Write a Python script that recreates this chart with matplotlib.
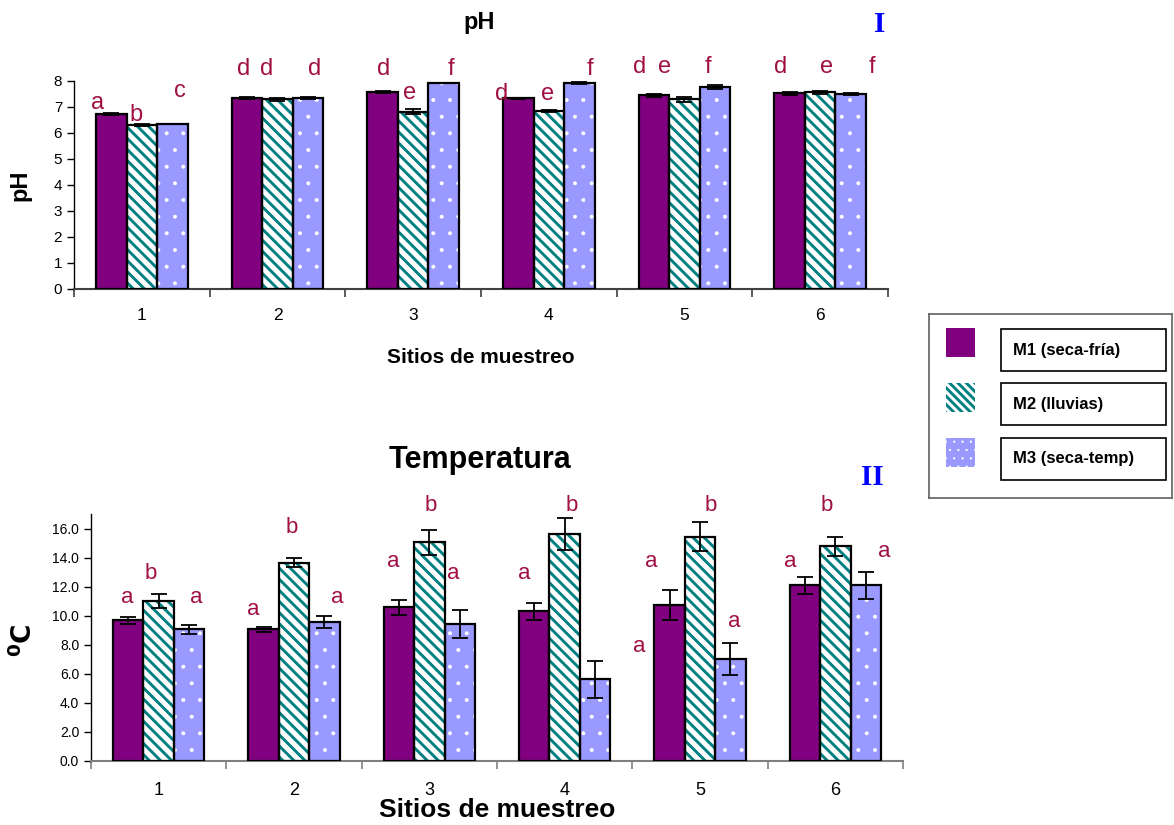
import matplotlib as mpl
import matplotlib.pyplot as plt
import matplotlib.patches as mpatches
import numpy as np

plt.rcParams['font.family'] = ['Liberation Sans', 'DejaVu Sans']

# ---------------------------------------------------------------------------
# Data
# ---------------------------------------------------------------------------

sites = ['1', '2', '3', '4', '5', '6']
series = ['M1 (seca-fría)', 'M2 (lluvias)', 'M3 (seca-temp)']

ph_m1 = [6.73, 7.33, 7.58, 7.33, 7.45, 7.52]
ph_m2 = [6.30, 7.30, 6.82, 6.85, 7.30, 7.57]
ph_m3 = [6.33, 7.33, 7.93, 7.93, 7.77, 7.50]
ph_err_m1 = [0.05, 0.04, 0.04, 0.03, 0.05, 0.04]
ph_err_m2 = [0.04, 0.05, 0.10, 0.03, 0.10, 0.06]
ph_err_m3 = [0.00, 0.04, 0.00, 0.05, 0.06, 0.03]

temp_m1 = [9.68, 9.07, 10.58, 10.30, 10.71, 12.09]
temp_m2 = [11.00, 13.66, 15.04, 15.60, 15.45, 14.77]
temp_m3 = [9.07, 9.55, 9.41, 5.63, 7.00, 12.09]
temp_err_m1 = [0.25, 0.18, 0.52, 0.58, 1.03, 0.58]
temp_err_m2 = [0.50, 0.32, 0.89, 1.10, 1.00, 0.65]
temp_err_m3 = [0.32, 0.40, 0.97, 1.28, 1.09, 0.92]

# significance letters (text, x in data units, y in data units)
ph_letters = ['a', 'b', 'c', 'd', 'd', 'd', 'd', 'e', 'f',
              'd', 'e', 'f', 'd', 'e', 'f', 'd', 'e', 'f']
ph_letter_x = [-0.33, -0.04, 0.28, 0.75, 0.92, 1.27, 1.78, 1.97, 2.28,
               2.65, 2.99, 3.30, 3.67, 3.85, 4.17, 4.71, 5.05, 5.38]
ph_letter_y = [6.92, 6.46, 7.38, 8.23, 8.23, 8.23, 8.23, 7.31, 8.23,
               7.27, 7.27, 8.23, 8.31, 8.31, 8.31, 8.31, 8.31, 8.31]

temp_letters = ['a', 'b', 'a'] * 6
temp_letter_x = [-0.23, -0.06, 0.28, 0.70, 0.98, 1.32, 1.73, 2.01, 2.18,
                 2.70, 3.05, 3.55, 3.64, 4.08, 4.25, 4.67, 4.94, 5.36]
temp_letter_y = [10.87, 12.53, 10.87, 10.05, 15.69, 10.87, 13.35, 17.2, 12.53,
                 12.53, 17.2, 7.50, 13.35, 17.2, 9.22, 13.35, 17.2, 14.04]

# ---------------------------------------------------------------------------
# Styles
# ---------------------------------------------------------------------------

W, H = 1174, 825
faces = ['#800080', 'white', '#9999FF']
hatch_cols = ['#800080', '#008080', 'white']
hatches = [None, '\\\\\\', '.']
legend_hatches = [None, '\\\\\\\\', '..']
hatch_lw = [1.0, 2.1, 0.4]
letter_col = '#A01045'
width = 0.225
offsets = [-width, 0, width]


def hatched_patch(make, k):
    # hatch linewidth is a global rc setting; set it while the patch is made
    with mpl.rc_context({'hatch.linewidth': hatch_lw[k]}):
        art = make()
    patches = art.patches if hasattr(art, 'patches') else [art]
    for p in patches:
        if hasattr(p, 'set_hatch_linewidth'):
            p.set_hatch_linewidth(hatch_lw[k])
    return art


def draw_bars(ax, vals, errs):
    x = np.arange(len(sites))
    for k in range(3):
        pos = x + offsets[k]
        hatched_patch(lambda: ax.bar(pos, vals[k], width, color=faces[k],
                                     edgecolor=hatch_cols[k], hatch=hatches[k],
                                     linewidth=0, zorder=2), k)
        ax.bar(pos, vals[k], width, fill=False, edgecolor='black',
               linewidth=1.6, zorder=3)
        ax.errorbar(pos, vals[k], yerr=errs[k], fmt='none', ecolor='black',
                    elinewidth=1.3, capsize=6, capthick=1.3, zorder=4)


def style_axis(ax, xcol):
    ax.set_xlim(-0.5, 5.5)
    ax.set_xticks(range(len(sites)))
    ax.set_xticklabels(sites)
    ax.set_xticks(np.arange(-0.5, 6, 1), minor=True)
    ax.tick_params(axis='x', which='major', length=0, pad=14)
    ax.tick_params(axis='x', which='minor', length=6, color=xcol, width=1.2)
    ax.tick_params(axis='y', length=5, width=1.0)
    for s in ['top', 'right']:
        ax.spines[s].set_visible(False)
    ax.spines['bottom'].set_color(xcol)
    ax.spines['bottom'].set_linewidth(1.5)
    ax.spines['left'].set_linewidth(1.0)


fig = plt.figure(figsize=(W / 100, H / 100), dpi=100)

# ---------------------------------------------------------------------------
# pH
# ---------------------------------------------------------------------------

ax1 = fig.add_axes([74 / W, 1 - 289 / H, (888 - 74) / W, (289 - 81) / H])
draw_bars(ax1, [ph_m1, ph_m2, ph_m3], [ph_err_m1, ph_err_m2, ph_err_m3])
style_axis(ax1, '#404040')
ax1.set_ylim(0, 8)
ax1.set_yticks(range(0, 9))
ax1.tick_params(axis='x', labelsize=12.5)
ax1.tick_params(axis='y', labelsize=11)
ax1.set_ylabel('pH', fontsize=17, fontweight='bold')
ax1.yaxis.set_label_coords(-0.052, 0.5)
ax1.set_xlabel('Sitios de muestreo', fontsize=15, fontweight='bold', labelpad=18)
for t, x, y in zip(ph_letters, ph_letter_x, ph_letter_y):
    ax1.text(x, y, t, color=letter_col, fontsize=17, ha='center', va='baseline')

fig.text(479 / W, 1 - 22 / H, 'pH', fontsize=17, fontweight='bold',
         ha='center', va='center')
fig.text(880 / W, 1 - 25 / H, 'I', fontsize=21, fontweight='bold', color='#0000FF',
         family='Liberation Serif', ha='center', va='center')

# ---------------------------------------------------------------------------
# Temperatura
# ---------------------------------------------------------------------------

ax2 = fig.add_axes([91 / W, 1 - 761 / H, (903 - 91) / W, (761 - 514) / H])
draw_bars(ax2, [temp_m1, temp_m2, temp_m3], [temp_err_m1, temp_err_m2, temp_err_m3])
style_axis(ax2, '#808080')
ax2.set_ylim(0, 17)
ax2.set_yticks(np.arange(0, 17, 2))
ax2.set_yticklabels([f'{v:.1f}' for v in np.arange(0, 17, 2)])
ax2.tick_params(axis='x', labelsize=13, pad=15)
ax2.tick_params(axis='y', labelsize=10)
ax2.set_ylabel(r'$^{\mathbf{0}}\mathbf{C}$', fontsize=19)
ax2.yaxis.set_label_coords(-0.067, 0.49)
ax2.set_xlabel('Sitios de muestreo', fontsize=19, fontweight='bold')
ax2.xaxis.set_label_coords(0.5, -0.150)
for t, x, y in zip(temp_letters, temp_letter_x, temp_letter_y):
    ax2.text(x, y, t, color=letter_col, fontsize=16, ha='center', va='baseline')

fig.text(480 / W, 1 - 460 / H, 'Temperatura', fontsize=22, fontweight='bold',
         ha='center', va='center')
fig.text(872 / W, 1 - 478 / H, 'II', fontsize=21, fontweight='bold', color='#0000FF',
         family='Liberation Serif', ha='center', va='center')

# ---------------------------------------------------------------------------
# Legend (drawn by hand: each label sits in its own framed box)
# ---------------------------------------------------------------------------

lg = fig.add_axes([929 / W, 1 - 498 / H, 243 / W, 184 / H])
lg.set_xlim(0, 243)
lg.set_ylim(184, 0)
lg.set_xticks([])
lg.set_yticks([])
for s in lg.spines.values():
    s.set_color('#606060')
    s.set_linewidth(1.2)

sq_top = [14, 69, 124]
box_top = [15, 69, 124]
for k, name in enumerate(series):
    hatched_patch(lambda: lg.add_patch(mpatches.Rectangle(
        (17, sq_top[k]), 29, 29, facecolor=faces[k], edgecolor=hatch_cols[k],
        hatch=legend_hatches[k], linewidth=0)), k)
    lg.add_patch(mpatches.Rectangle((72, box_top[k]), 165, 42, facecolor='white',
                                    edgecolor='black', linewidth=1.2))
    lg.text(84, box_top[k] + 21, name, fontsize=12, fontweight='bold',
            ha='left', va='center')

fig.savefig('out.png', dpi=100)
